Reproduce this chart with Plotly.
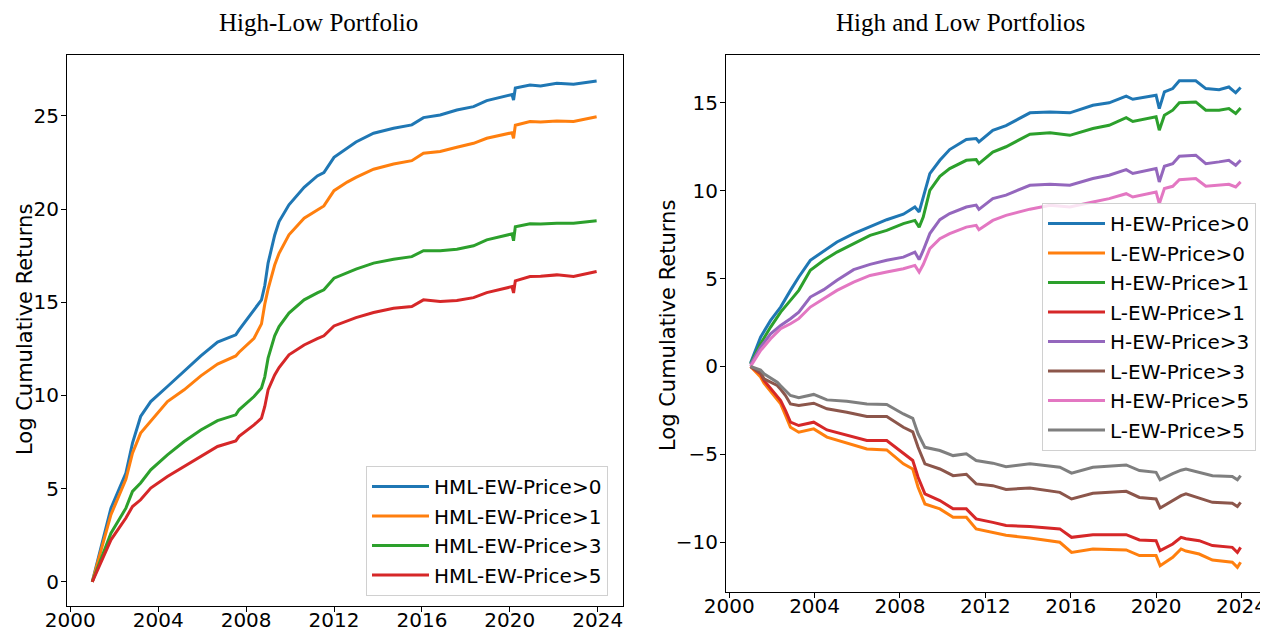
import plotly.graph_objects as go

# ---------------- data (decimal years, log cumulative returns) ----------------
x_left = [2001.0, 2001.85, 2002.53, 2002.83, 2003.2, 2003.66, 2004.42, 2005.18, 2005.94, 2006.7,
          2007.53, 2007.68, 2008.36, 2008.7, 2008.85, 2009.0, 2009.3, 2009.5, 2009.95, 2010.64,
          2011.24, 2011.54, 2012.0, 2012.6, 2013.0, 2013.8, 2014.71, 2015.54, 2016.07, 2016.83,
          2017.59, 2018.35, 2018.95, 2020.1, 2020.17, 2020.25, 2020.92, 2021.4, 2022.14, 2022.9,
          2023.95]

hml_p0 = [0, 3.95, 5.83, 7.44, 8.87, 9.67, 10.48, 11.28, 12.12, 12.86,
          13.25, 13.52, 14.59, 15.13, 15.9, 17.1, 18.6, 19.33, 20.23, 21.17,
          21.78, 21.96, 22.78, 23.25, 23.6, 24.07, 24.34, 24.52, 24.91, 25.05,
          25.32, 25.5, 25.82, 26.15, 25.85, 26.5, 26.66, 26.61, 26.75, 26.70,
          26.88]
hml_p1 = [0, 3.6, 5.5, 6.9, 7.98, 8.6, 9.67, 10.3, 11.05, 11.68,
          12.12, 12.32, 13.07, 13.84, 14.9, 15.7, 17.0, 17.63, 18.62, 19.51,
          19.95, 20.17, 20.99, 21.45, 21.7, 22.14, 22.42, 22.6, 23.0, 23.09,
          23.32, 23.53, 23.8, 24.1, 23.8, 24.5, 24.7, 24.68, 24.73, 24.7,
          24.96]
hml_p3 = [0, 2.61, 3.95, 4.85, 5.3, 6.01, 6.81, 7.53, 8.15, 8.65,
          8.96, 9.23, 9.94, 10.4, 11.0, 12.0, 13.2, 13.7, 14.42, 15.13,
          15.5, 15.67, 16.29, 16.6, 16.78, 17.1, 17.31, 17.45, 17.77, 17.76,
          17.85, 18.03, 18.35, 18.67, 18.3, 19.05, 19.21, 19.2, 19.24, 19.24,
          19.37]
hml_p5 = [0, 2.25, 3.42, 4.04, 4.4, 5.03, 5.65, 6.19, 6.72, 7.26,
          7.56, 7.8, 8.42, 8.78, 9.41, 10.3, 11.1, 11.5, 12.18, 12.71,
          13.05, 13.2, 13.73, 14.0, 14.18, 14.45, 14.68, 14.77, 15.13, 15.04,
          15.09, 15.25, 15.52, 15.84, 15.5, 16.15, 16.38, 16.4, 16.47, 16.38,
          16.65]

x_high = [2001.0, 2001.47, 2001.94, 2002.41, 2002.87, 2003.26, 2003.8, 2004.43, 2005.05, 2005.83,
          2006.6, 2007.38, 2008.16, 2008.7, 2008.9, 2009.09, 2009.4, 2009.87, 2010.33, 2011.11,
          2011.57, 2011.7, 2012.35, 2012.97, 2014.09, 2015.03, 2015.96, 2017.04, 2017.8, 2018.6,
          2018.91, 2020.0, 2020.15, 2020.39, 2020.78, 2021.09, 2021.86, 2022.33, 2022.95, 2023.41,
          2023.73, 2023.96]
h_p0 = [0.2, 1.67, 2.62, 3.38, 4.33, 5.09, 6.04, 6.57, 7.08, 7.56,
        7.93, 8.35, 8.66, 9.07, 8.79, 9.64, 10.97, 11.73, 12.34, 12.91,
        12.97, 12.78, 13.44, 13.7, 14.43, 14.48, 14.43, 14.86, 15.0, 15.38,
        15.2, 15.43, 14.67, 15.62, 15.81, 16.25, 16.25, 15.81, 15.75, 15.9,
        15.57, 15.87]
h_p1 = [0.15, 1.29, 2.24, 3.09, 3.76, 4.33, 5.47, 6.04, 6.51, 6.99,
        7.46, 7.74, 8.13, 8.31, 7.93, 8.5, 10.02, 10.82, 11.26, 11.73,
        11.77, 11.54, 12.2, 12.5, 13.21, 13.29, 13.15, 13.54, 13.72, 14.16,
        13.94, 14.2, 13.44, 14.29, 14.58, 15.0, 15.05, 14.58, 14.58, 14.67,
        14.39, 14.71]
h_p3 = [0.1, 1.1, 1.86, 2.33, 2.72, 3.09, 3.95, 4.37, 4.9, 5.51,
        5.81, 6.04, 6.22, 6.51, 6.08, 6.6, 7.56, 8.35, 8.7, 9.07,
        9.18, 8.94, 9.55, 9.75, 10.31, 10.36, 10.31, 10.69, 10.88, 11.2,
        10.98, 11.26, 10.5, 11.39, 11.54, 11.96, 12.02, 11.54, 11.64, 11.73,
        11.45, 11.73]
h_p5 = [0.0, 0.91, 1.58, 2.15, 2.43, 2.72, 3.38, 3.86, 4.33, 4.8,
        5.18, 5.37, 5.56, 5.75, 5.37, 5.8, 6.7, 7.27, 7.56, 7.93,
        8.03, 7.78, 8.31, 8.6, 8.95, 9.17, 9.07, 9.36, 9.55, 9.83,
        9.64, 9.93, 9.26, 10.12, 10.25, 10.63, 10.69, 10.25, 10.31, 10.36,
        10.21, 10.5]

x_low = [2001.0, 2001.47, 2001.63, 2001.94, 2002.25, 2002.41, 2002.64, 2002.87, 2003.26, 2003.96,
         2004.58, 2005.51, 2006.45, 2007.38, 2008.16, 2008.6, 2008.85, 2009.17, 2009.87, 2010.49,
         2011.11, 2011.57, 2012.35, 2012.97, 2014.09, 2015.49, 2016.04, 2017.04, 2018.6, 2019.22,
         2020.0, 2020.19, 2020.78, 2021.17, 2021.4, 2022.02, 2022.64, 2023.57, 2023.81, 2023.96]
l_p0 = [0, -0.6, -0.95, -1.4, -1.85, -2.13, -2.79, -3.46, -3.74, -3.55,
        -4.02, -4.37, -4.69, -4.75, -5.54, -5.83, -6.87, -7.82, -8.1, -8.58,
        -8.58, -9.24, -9.43, -9.6, -9.76, -10.0, -10.58, -10.38, -10.44, -10.76,
        -10.76, -11.33, -10.86, -10.38, -10.5, -10.67, -11.01, -11.14, -11.43, -11.14]
l_p1 = [0, -0.42, -0.8, -1.27, -1.7, -1.94, -2.51, -3.17, -3.36, -3.17,
        -3.61, -3.93, -4.21, -4.21, -4.97, -5.35, -6.3, -7.25, -7.63, -8.1,
        -8.1, -8.67, -8.87, -9.05, -9.11, -9.24, -9.72, -9.57, -9.57, -9.87,
        -9.91, -10.48, -10.1, -9.72, -9.8, -9.91, -10.19, -10.29, -10.58, -10.29]
l_p3 = [0, -0.35, -0.7, -0.9, -1.08, -1.3, -1.65, -2.13, -2.22, -2.09,
        -2.41, -2.6, -2.85, -2.85, -3.46, -3.72, -4.6, -5.54, -5.83, -6.21,
        -6.13, -6.68, -6.78, -7.0, -6.91, -7.16, -7.54, -7.21, -7.1, -7.45,
        -7.54, -8.05, -7.6, -7.35, -7.25, -7.5, -7.73, -7.78, -7.97, -7.73]
l_p5 = [0, -0.2, -0.42, -0.65, -0.89, -1.1, -1.37, -1.65, -1.78, -1.59,
        -1.9, -1.98, -2.13, -2.16, -2.7, -2.95, -3.83, -4.6, -4.78, -5.07,
        -4.97, -5.35, -5.5, -5.7, -5.54, -5.73, -6.07, -5.73, -5.6, -5.92,
        -6.02, -6.45, -6.1, -5.9, -5.83, -6.0, -6.21, -6.26, -6.45, -6.21]

year_ticks = [2000, 2004, 2008, 2012, 2016, 2020, 2024]
left_yticks = [0, 5, 10, 15, 20, 25]
right_yticks = [-10, -5, 0, 5, 10, 15]

left_names = ["HML-EW-Price>0", "HML-EW-Price>1", "HML-EW-Price>3", "HML-EW-Price>5"]
right_names = ["H-EW-Price>0", "L-EW-Price>0", "H-EW-Price>1", "L-EW-Price>1",
               "H-EW-Price>3", "L-EW-Price>3", "H-EW-Price>5", "L-EW-Price>5"]

# ---------------- figure ----------------
# page body has an 8px margin; positions below are given in page pixels
OFF = 8
W, H = 1260, 623


def fx(px):
    return (px - OFF) / W


def fy(py):
    return 1 - (py - OFF) / H


tab10 = ["#1f77b4", "#ff7f0e", "#2ca02c", "#d62728", "#9467bd", "#8c564b", "#e377c2", "#7f7f7f"]

fig = go.Figure()

left_series = [hml_p0, hml_p1, hml_p3, hml_p5]
for i, (nm, ys) in enumerate(zip(left_names, left_series)):
    fig.add_trace(go.Scatter(x=x_left, y=ys, mode="lines", name=nm,
                             line=dict(color=tab10[i], width=3),
                             xaxis="x", yaxis="y", legend="legend",
                             legendgroup="l%d" % i))

right_series = [(x_high, h_p0), (x_low, l_p0), (x_high, h_p1), (x_low, l_p1),
                (x_high, h_p3), (x_low, l_p3), (x_high, h_p5), (x_low, l_p5)]
for i, (nm, (xs, ys)) in enumerate(zip(right_names, right_series)):
    fig.add_trace(go.Scatter(x=xs, y=ys, mode="lines", name=nm,
                             line=dict(color=tab10[i], width=3),
                             xaxis="x2", yaxis="y2", legend="legend2",
                             legendgroup="r%d" % i))


def minus(v):
    return str(v).replace("-", "\u2212")


axis_common = dict(showline=True, mirror=True, linecolor="black", linewidth=1,
                   ticks="outside", ticklen=5, tickwidth=1, tickcolor="black",
                   showgrid=False, zeroline=False, automargin=False,
                   tickfont=dict(family="DejaVu Sans", size=20, color="black"))
xaxis_common = dict(ticklabelstandoff=-9, **axis_common)
yaxis_common = dict(ticklabelstandoff=-2, **axis_common)

legend_common = dict(bgcolor="rgba(255,255,255,0.8)", bordercolor="#d0d0d0", borderwidth=1,
                     font=dict(family="DejaVu Sans", size=20, color="black"),
                     tracegroupgap=0.5, traceorder="grouped", itemwidth=57)

fig.update_layout(
    width=W, height=H,
    margin=dict(l=0, r=0, t=0, b=0, autoexpand=False),
    paper_bgcolor="white", plot_bgcolor="white",
    font=dict(family="DejaVu Sans", size=20, color="black"),
    xaxis=dict(domain=[fx(67), fx(623)], anchor="y", range=[1999.85, 2025.15],
               tickvals=year_ticks, ticktext=[str(t) for t in year_ticks], **xaxis_common),
    yaxis=dict(domain=[fy(606), fy(55)], anchor="x", range=[-1.3, 28.27],
               tickvals=left_yticks, ticktext=[minus(t) for t in left_yticks], **yaxis_common),
    xaxis2=dict(domain=[fx(726), fx(1266)], anchor="y2", range=[1999.85, 2025.15],
                tickvals=year_ticks, ticktext=[str(t) for t in year_ticks], **xaxis_common),
    yaxis2=dict(domain=[fy(592), fy(55)], anchor="x2", range=[-12.83, 17.72],
                tickvals=right_yticks, ticktext=[minus(t) for t in right_yticks], **yaxis_common),
    legend=dict(x=fx(608), y=fy(596), xanchor="right", yanchor="bottom", **legend_common),
    legend2=dict(x=fx(1256), y=fy(203), xanchor="right", yanchor="top", **legend_common),
    annotations=[
        dict(text="High-Low Portfolio", x=fx(318), y=fy(22), xref="paper", yref="paper",
             showarrow=False, xanchor="center", yanchor="middle",
             font=dict(family="Liberation Serif", size=25, color="black")),
        dict(text="High and Low Portfolios", x=fx(960), y=fy(22), xref="paper", yref="paper",
             showarrow=False, xanchor="center", yanchor="middle",
             font=dict(family="Liberation Serif", size=25, color="black")),
        dict(text="Log Cumulative Returns", x=fx(25), y=fy(330), xref="paper", yref="paper",
             showarrow=False, xanchor="center", yanchor="middle", textangle=-90,
             font=dict(family="DejaVu Sans", size=21, color="black")),
        dict(text="Log Cumulative Returns", x=fx(668), y=fy(326), xref="paper", yref="paper",
             showarrow=False, xanchor="center", yanchor="middle", textangle=-90,
             font=dict(family="DejaVu Sans", size=21, color="black")),
    ],
)

fig.write_html("out.html")
